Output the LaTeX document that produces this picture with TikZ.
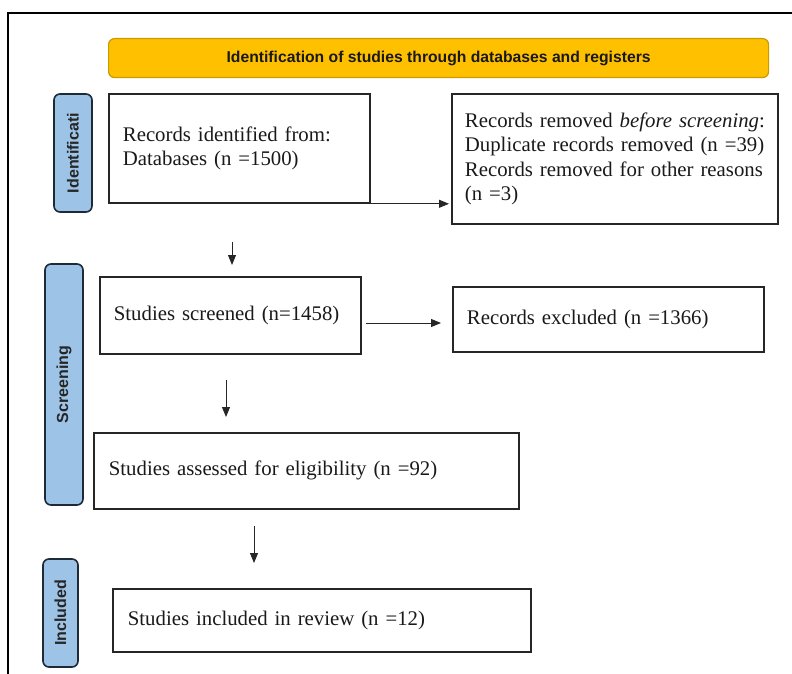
\documentclass[tikz,border=0pt]{standalone}
\usepackage{fontspec}
\setmainfont{Liberation Serif}
\setsansfont{Liberation Sans}
\usetikzlibrary{positioning,arrows.meta,calc}
\definecolor{bannerorange}{HTML}{FFC000}
\definecolor{bannerrim}{HTML}{C89B00}
\definecolor{phaseblue}{HTML}{9DC3E6}
\definecolor{phaserim}{HTML}{1E2A36}

\begin{document}
\begin{tikzpicture}[x=1pt,y=-1pt,>={Triangle[length=10pt,width=8pt]},
  box/.style={draw=black!85,line width=1.8pt,anchor=north west,inner xsep=14pt,inner ysep=0pt,
    align=left,text=black!90,font=\fontsize{20.8}{24.5}\selectfont},
  phase/.style={draw=phaserim,fill=phaseblue,line width=1.6pt,rounded corners=6pt,rotate=90,inner sep=0pt,
    text=black!85,font=\sffamily\bfseries\fontsize{16}{18}\selectfont},
  flow/.style={->,line width=1pt,black!85}]
  \useasboundingbox (0,0) rectangle (792,674);
  \draw[line width=2pt] (8,674) -- (8,13) -- (792,13);

  \node[draw=bannerrim,fill=bannerorange,rounded corners=6pt,line width=1.2pt,anchor=north west,
    minimum width=660pt,minimum height=39pt,inner sep=0pt,text=black!90,
    font=\sffamily\bfseries\fontsize{15.7}{18}\selectfont] (banner) at (108,38)
    {Identification of studies through databases and registers};

  \node[phase,minimum width=118pt,minimum height=38pt] (idphase) at (73,153) {Identificati};
  \node[phase,minimum width=241pt,minimum height=38pt] (scphase) at (64,384.5) {Screening};
  \node[phase,minimum width=108pt,minimum height=35pt] (inphase) at (60.5,613) {Included};

  \node[box,text width=233pt,minimum height=109pt] (records) at (108,93)
    {Records identified from:\\Databases (n =1500)};
  \node[box,inner xsep=13pt,text width=300pt,minimum height=130pt] (removed) at (451,93)
    {Records removed \textit{before screening}:\\Duplicate records removed (n =39)\\Records removed for other reasons\\(n =3)};
  \node[box,text width=233pt,minimum height=77pt] (screened) at (99,276) {Studies screened (n=1458)};
  \node[box,text width=283pt,minimum height=65pt] (excluded) at (452,286) {Records excluded (n =1366)};
  \node[box,inner xsep=15pt,text width=395pt,minimum height=76pt] (assessed) at (93,432)
    {Studies assessed for eligibility (n =92)};
  \node[box,inner xsep=15pt,text width=388pt,minimum height=63pt] (included) at (112,588)
    {Studies included in review (n =12)};

  \coordinate (c1) at (232,0);
  \coordinate (c3) at (0,323);
  \coordinate (c4) at (226,0);
  \coordinate (c5) at (254,0);
  \draw[flow,shorten >=2pt] (records.south east) -- (records.south east -| removed.west);
  \draw[flow,shorten <=38pt,shorten >=11pt] (records.south -| c1) -- (screened.north -| c1);
  \draw[flow,shorten <=4pt,shorten >=11pt] (screened.east |- c3) -- (excluded.west |- c3);
  \draw[flow,shorten <=25pt,shorten >=15pt] (screened.south -| c4) -- (assessed.north -| c4);
  \draw[flow,shorten <=16pt,shorten >=25pt] (assessed.south -| c5) -- (included.north -| c5);
\end{tikzpicture}
\end{document}
